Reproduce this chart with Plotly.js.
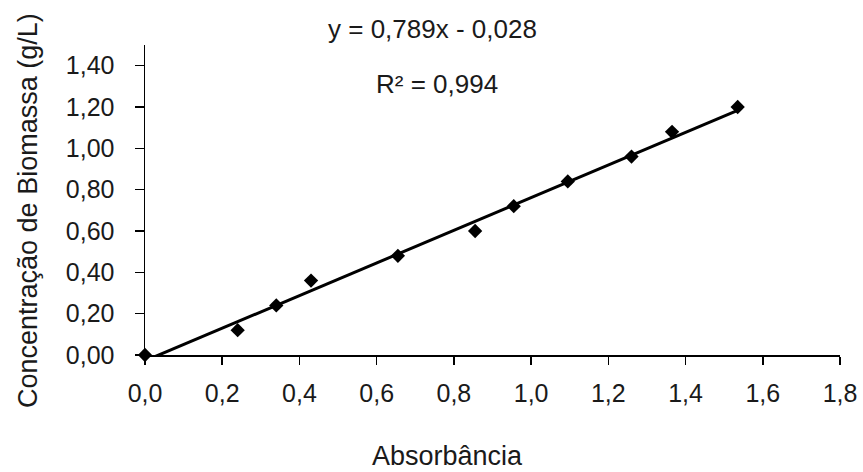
<!DOCTYPE html>
<html>
<head>
<meta charset="utf-8">
<script src="https://cdn.plot.ly/plotly-3.0.1.min.js"></script>
<style>html,body{margin:0;padding:0;background:#fff;}#chart{width:863px;height:472px;}</style>
</head>
<body>
<div id="chart"></div>
<script>
// Data
const absorbancia = [0, 0.24, 0.34, 0.43, 0.655, 0.855, 0.955, 1.095, 1.26, 1.365, 1.535];
const biomassa = [0, 0.12, 0.24, 0.36, 0.48, 0.60, 0.72, 0.84, 0.96, 1.08, 1.20];
// Trend line (linear fit shown on chart)
const slope = 0.789;
const intercept = -0.028;
const trendX = [0, 1.535];
const xTicks = [0, 0.2, 0.4, 0.6, 0.8, 1.0, 1.2, 1.4, 1.6, 1.8];
const yTicks = [0, 0.2, 0.4, 0.6, 0.8, 1.0, 1.2, 1.4];
const eqText = 'y = 0,789x - 0,028';
const r2Text = 'R² = 0,994';

const font = 'Liberation Sans, Arial, sans-serif';
const txt = '#1a1a1a';

const traces = [
  {
    x: trendX,
    y: trendX.map(v => slope * v + intercept),
    mode: 'lines',
    line: {color: '#000', width: 3},
    hoverinfo: 'skip',
    showlegend: false
  },
  {
    x: absorbancia,
    y: biomassa,
    mode: 'markers',
    marker: {symbol: 'diamond', size: 11, color: '#000'},
    cliponaxis: false,
    showlegend: false
  }
];

const layout = {
  width: 863, height: 472,
  margin: {l: 145, r: 23, t: 45, b: 117},
  paper_bgcolor: '#fff', plot_bgcolor: '#fff',
  separators: ', ',
  font: {family: font, color: txt, size: 26},
  showlegend: false,
  xaxis: {
    range: [0, 1.8], tickvals: xTicks, tickformat: '.1f',
    showgrid: false, zeroline: false,
    showline: true, linecolor: '#000', linewidth: 1.5,
    ticks: 'outside', ticklen: 8, tickwidth: 1.5, tickcolor: '#000',
    tickfont: {size: 25, color: txt, family: font},
    ticklabelstandoff: 7
  },
  yaxis: {
    range: [0, 1.5], tickvals: yTicks, tickformat: '.2f',
    showgrid: false, zeroline: false,
    showline: true, linecolor: '#000', linewidth: 1.5,
    ticks: 'outside', ticklen: 9, tickwidth: 1.5, tickcolor: '#000',
    tickfont: {size: 25, color: txt, family: font},
    ticklabelstandoff: 15
  },
  annotations: [
    {text: eqText, xref: 'paper', yref: 'paper', x: (432 - 145) / 695, y: (355 - 29) / 310,
     showarrow: false, xanchor: 'center', yanchor: 'middle', font: {size: 26, color: txt, family: font}},
    {text: r2Text, xref: 'paper', yref: 'paper', x: (437 - 145) / 695, y: (355 - 84) / 310,
     showarrow: false, xanchor: 'center', yanchor: 'middle', font: {size: 26, color: txt, family: font}},
    {text: 'Absorbância', xref: 'paper', yref: 'paper', x: (447 - 145) / 695, y: (355 - 456) / 310,
     showarrow: false, xanchor: 'center', yanchor: 'middle', font: {size: 27, color: txt, family: font}},
    {text: 'Concentração de Biomassa (g/L)', xref: 'paper', yref: 'paper', x: (28 - 145) / 695, y: (355 - 211) / 310,
     textangle: -90, showarrow: false, xanchor: 'center', yanchor: 'middle', font: {size: 27, color: txt, family: font}}
  ]
};

Plotly.newPlot('chart', traces, layout, {displayModeBar: false, staticPlot: true});
</script>
</body>
</html>
